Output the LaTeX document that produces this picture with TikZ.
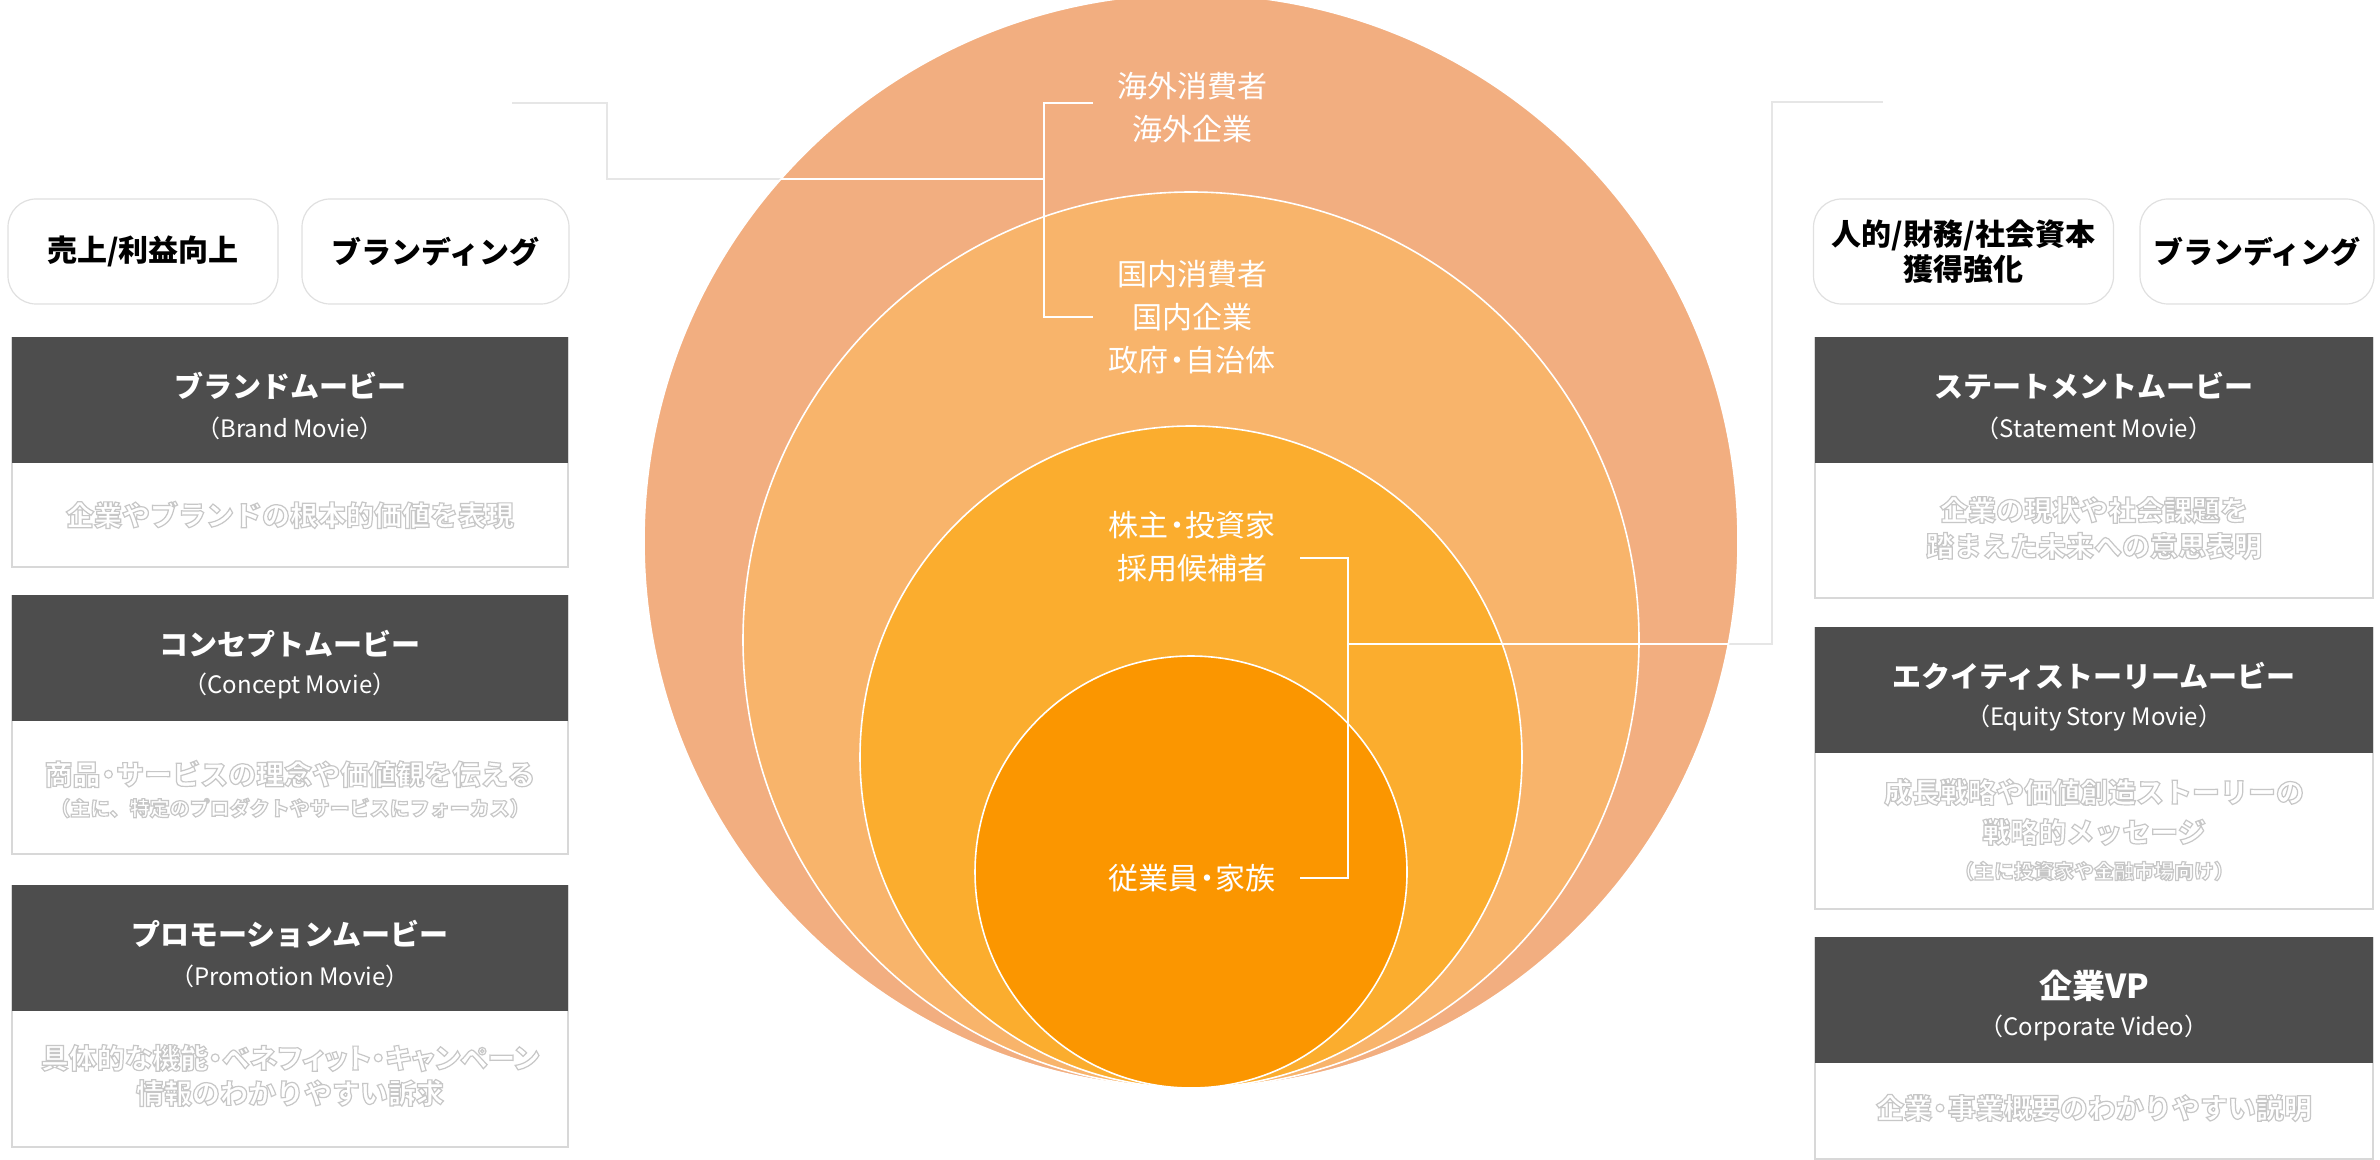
\documentclass[tikz,border=0pt]{standalone}
\usepackage{fontspec}
\setmainfont{Noto Sans CJK JP}
\newfontfamily\paltfont{Noto Sans CJK JP}[RawFeature=+palt]
\definecolor{cA}{HTML}{F2AE80}
\definecolor{cB}{HTML}{F8B46B}
\definecolor{cC}{HTML}{FBAD2E}
\definecolor{cD}{HTML}{FB9600}
\definecolor{hdr}{HTML}{4D4D4D}
\definecolor{bord}{HTML}{D8D8D8}
\definecolor{conn}{HTML}{E6E6E6}
\definecolor{pillc}{HTML}{E0E0E0}
\newcommand{\outl}[1]{\special{pdf:literal direct 2 Tr 0.6 w 0.78 G}#1\special{pdf:literal direct 0 Tr}}
\newcommand{\nd}{\kern-0.22em・\kern-0.22em}
\tikzset{
  lbl/.style={text=white, align=center, inner sep=0pt, font=\fontsize{15}{21.5}\selectfont},
  pill/.style={draw=pillc, line width=0.6pt, rounded corners=14pt, fill=white, align=center, inner sep=0pt, font=\bfseries\fontsize{15}{17.5}\selectfont},
  boxframe/.style={draw=bord, line width=0.8pt, fill=white, inner sep=0pt, anchor=north},
  hdrbox/.style={fill=hdr, draw=none, inner sep=0pt, anchor=north},
  ttl/.style={text=white, inner sep=0pt, font=\bfseries\fontsize{14.5}{16}\selectfont},
  subt/.style={text=white, inner sep=0pt, font=\fontsize{12}{14}\selectfont},
  desc/.style={text=white, inner sep=0pt, font=\bfseries\fontsize{14}{16}\selectfont},
  descs/.style={text=white, inner sep=0pt, font=\bfseries\fontsize{10}{12}\selectfont},
  ring/.style={draw=white, line width=0.8pt},
  brk/.style={draw=white, line width=1.3pt},
  gline/.style={draw=conn, line width=1.1pt},
}
\begin{document}
\begin{tikzpicture}[x=0.5pt,y=-0.5pt]
\useasboundingbox (0,0) rectangle (2380,1160);
% connector coordinates
\coordinate (tbm) at (1044,179);
\coordinate (rbm) at (1348,644);
\coordinate (lg0) at (512,103);
\coordinate (lg1) at (607,103);
\coordinate (lg2) at (607,179);
\coordinate (rg1) at (1772,644);
\coordinate (rg2) at (1772,102);
\coordinate (rg3) at (1883,102);
% gray connectors (behind circles)
\draw[gline] (lg0) -- (lg1) -- (lg2) -- (tbm);
\draw[gline] (rbm) -- (rg1) -- (rg2) -- (rg3);
% circles
\fill[cA] (1191,541) circle[radius=273.5pt];
\draw[ring] (1191,541) circle[radius=273.5pt];
\filldraw[fill=cB, ring] (1191,640) circle[radius=224pt];
\filldraw[fill=cC, ring] (1191,757) circle[radius=165.5pt];
\filldraw[fill=cD, ring] (1191,872) circle[radius=108pt];
% white connector parts inside the outer circle
\begin{scope}
\clip (1191,541) circle[radius=273.5pt];
\draw[brk] (tbm) -- (600,179);
\draw[brk] (rbm) -- (1800,644);
\end{scope}
% brackets
\coordinate (tb1) at (1093,103);
\coordinate (tb2) at (1093,317);
\coordinate (rb1) at (1300,558);
\coordinate (rb2) at (1300,878);
\draw[brk] (tb1) -- (1044,103) -- (1044,317) -- (tb2);
\draw[brk] (rb1) -- (1348,558) -- (1348,878) -- (rb2);
% circle labels
\node[lbl] (c1) at (1192,107.5) {海外消費者\\海外企業};
\node[lbl] (c2) at (1192,317.5) {国内消費者\\国内企業\\政府\nd 自治体};
\node[lbl] (c3) at (1192,546.5) {株主\nd 投資家\\採用候補者};
\node[lbl] (c4) at (1192,878) {従業員\nd 家族};
% pills
\node[pill, minimum width=135pt, minimum height=52.5pt] (p1) at (143,251.5) {売上/利益向上};
\node[pill, minimum width=133.5pt, minimum height=52.5pt] (p2) at (435.5,251.5) {ブランディング};
\node[pill, minimum width=150pt, minimum height=52.5pt] (p3) at (1963.5,251.5) {人的/財務/社会資本\\獲得強化};
\node[pill, minimum width=117pt, minimum height=52.5pt] (p4) at (2257,251.5) {ブランディング};
% left boxes
\node[boxframe, minimum width=278pt, minimum height=114.5pt] (L1) at (290,337) {};
\node[hdrbox, minimum width=278pt, minimum height=63pt] (L1h) at (290,337) {};
\node[ttl] (L1t) at (290,386) {ブランドムービー};
\node[subt] (L1s) at (290,428) {（Brand Movie）};
\node[desc] (L1d) at (290,515) {\outl{企業やブランドの根本的価値を表現}};

\node[boxframe, minimum width=278pt, minimum height=129pt] (L2) at (290,595) {};
\node[hdrbox, minimum width=278pt, minimum height=63pt] (L2h) at (290,595) {};
\node[ttl] (L2t) at (290,644) {コンセプトムービー};
\node[subt] (L2s) at (290,686) {（Concept Movie）};
\node[desc] (L2d1) at (290,774) {\outl{商品\nd サービスの理念や価値観を伝える}};
\node[descs] (L2d2) at (290,808) {\outl{（主に、特定のプロダクトやサービスにフォーカス）}};

\node[boxframe, minimum width=278pt, minimum height=130.5pt] (L3) at (290,885) {};
\node[hdrbox, minimum width=278pt, minimum height=63pt] (L3h) at (290,885) {};
\node[ttl] (L3t) at (290,934) {プロモーションムービー};
\node[subt] (L3s) at (290,976) {（Promotion Movie）};
\node[desc, font=\paltfont\bfseries\fontsize{14}{16}\selectfont] (L3d1) at (290,1058) {\outl{具体的な機能・ベネフィット・キャンペーン}};
\node[desc] (L3d2) at (290,1093) {\outl{情報のわかりやすい訴求}};
% right boxes
\node[boxframe, minimum width=279pt, minimum height=130pt] (R1) at (2094,337) {};
\node[hdrbox, minimum width=279pt, minimum height=63pt] (R1h) at (2094,337) {};
\node[ttl] (R1t) at (2094,386) {ステートメントムービー};
\node[subt] (R1s) at (2094,428) {（Statement Movie）};
\node[desc] (R1d1) at (2094,510) {\outl{企業の現状や社会課題を}};
\node[desc] (R1d2) at (2094,546) {\outl{踏まえた未来への意思表明}};

\node[boxframe, minimum width=279pt, minimum height=140.5pt] (R2) at (2094,627) {};
\node[hdrbox, minimum width=279pt, minimum height=63pt] (R2h) at (2094,627) {};
\node[ttl] (R2t) at (2094,676) {エクイティストーリームービー};
\node[subt] (R2s) at (2094,718) {（Equity Story Movie）};
\node[desc] (R2d1) at (2094,792) {\outl{成長戦略や価値創造ストーリーの}};
\node[desc] (R2d2) at (2094,832) {\outl{戦略的メッセージ}};
\node[descs] (R2d3) at (2094,871) {\outl{（主に投資家や金融市場向け）}};

\node[boxframe, minimum width=279pt, minimum height=110.5pt] (R3) at (2094,937) {};
\node[hdrbox, minimum width=279pt, minimum height=63pt] (R3h) at (2094,937) {};
\node[ttl, font=\bfseries\fontsize{16.5}{18}\selectfont] (R3t) at (2094,986) {企業VP};
\node[subt] (R3s) at (2094,1028) {（Corporate Video）};
\node[desc] (R3d) at (2094,1108) {\outl{企業\nd 事業概要のわかりやすい説明}};
\end{tikzpicture}
\end{document}
